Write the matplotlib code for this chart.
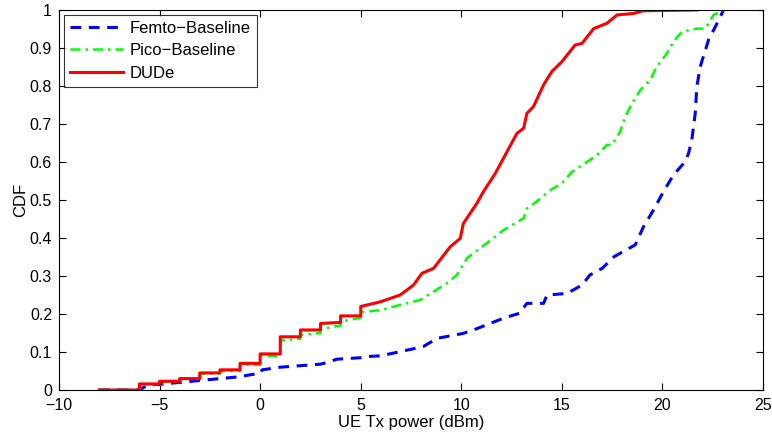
import matplotlib
matplotlib.use("Agg")
import matplotlib.pyplot as plt

plt.rcParams['font.family'] = ['Liberation Sans', 'DejaVu Sans']

# Femto-Baseline (blue dashed)
femto_x = [-8, -6, -5.6, -5, -4, -3, -2, -1, -0.5, 0, 0.1, 1, 2, 3, 3.5, 3.8, 5, 5.3, 6, 6.96, 8.1, 8.8, 10.1, 10.8,
           12.1, 12.9, 13.26, 14.09, 14.26, 15.25, 16.0, 16.4, 17.0, 17.6, 18.65, 19.06, 19.56, 20.05, 20.55,
           21.13, 21.3, 21.46, 21.63, 21.71, 21.88, 22.29, 22.63, 23.04]
femto_y = [0.0, 0.0, 0.013, 0.015, 0.02, 0.025, 0.03, 0.035, 0.04, 0.044, 0.053, 0.06, 0.064, 0.068, 0.075, 0.081,
           0.085, 0.088, 0.09, 0.101, 0.114, 0.136, 0.149, 0.162, 0.189, 0.202, 0.228, 0.228, 0.25, 0.254,
           0.276, 0.303, 0.32, 0.351, 0.382, 0.43, 0.474, 0.522, 0.566, 0.601, 0.623, 0.658, 0.728, 0.798,
           0.851, 0.921, 0.956, 1.0]

# Pico-Baseline (green dash-dot)
pico_x = [-8, -6, -6, -5, -5, -4, -4, -3, -3, -2, -2, -1, -1, 0, 0, 1, 1, 2, 2, 3, 3, 4, 4, 5, 5, 5.97,
          6.96, 7.96, 9.28, 9.78, 10.28, 10.94, 12.1, 13.1, 13.26, 13.75, 14.42, 15.0, 15.5, 16.16, 16.74,
          17.24, 17.49, 17.9, 18.15, 18.48, 18.9, 19.39, 19.72, 20.22, 20.55, 20.97, 21.71, 22.13, 22.54, 23.04]
pico_y = [0.0, 0.0, 0.015, 0.015, 0.022, 0.022, 0.03, 0.03, 0.043, 0.043, 0.05, 0.05, 0.066, 0.066, 0.09,
          0.09, 0.13, 0.135, 0.145, 0.15, 0.16, 0.17, 0.18, 0.19, 0.205, 0.21, 0.224, 0.237, 0.281, 0.303,
          0.347, 0.373, 0.421, 0.452, 0.478, 0.496, 0.526, 0.544, 0.574, 0.597, 0.618, 0.645, 0.645, 0.68,
          0.719, 0.754, 0.789, 0.816, 0.851, 0.886, 0.917, 0.943, 0.951, 0.951, 0.987, 1.0]

# DUDe (red solid)
dude_x = [-8, -6, -6, -5, -5, -4, -4, -3, -3, -2, -2, -1, -1, 0, 0, 1, 1, 2, 2, 3, 3, 4, 4, 5, 5, 5.5,
          5.97, 6.96, 7.62, 8.04, 8.62, 9.45, 9.95, 10.1, 10.77, 11.1, 11.69, 12.18, 12.76, 13.1, 13.26,
          13.59, 14.09, 14.5, 15.0, 15.66, 16.0, 16.58, 17.24, 17.74, 18.57, 19.06, 21.7]
dude_y = [0.0, 0.0, 0.016, 0.016, 0.023, 0.023, 0.03, 0.03, 0.045, 0.045, 0.053, 0.053, 0.07, 0.07, 0.095,
          0.095, 0.14, 0.14, 0.158, 0.158, 0.175, 0.178, 0.195, 0.195, 0.22, 0.226, 0.232, 0.25, 0.276,
          0.307, 0.32, 0.377, 0.399, 0.438, 0.491, 0.522, 0.57, 0.618, 0.675, 0.689, 0.728, 0.746, 0.803,
          0.838, 0.864, 0.908, 0.912, 0.951, 0.965, 0.987, 0.991, 0.998, 1.0]

xticks = [-10, -5, 0, 5, 10, 15, 20, 25]
xtick_labels = ['\u221210', '\u22125', '0', '5', '10', '15', '20', '25']
yticks = [0, 0.1, 0.2, 0.3, 0.4, 0.5, 0.6, 0.7, 0.8, 0.9, 1]
ytick_labels = ['0', '0.1', '0.2', '0.3', '0.4', '0.5', '0.6', '0.7', '0.8', '0.9', '1']

fig = plt.figure(figsize=(7.72, 4.34), dpi=100)
ax = fig.add_axes([59/772, 44/434, 704/772, 380/434])

ax.plot(femto_x, femto_y, color='#0000ff', linestyle=(0, (3.5, 2.5)), linewidth=2.2, label='Femto\u2212Baseline')
ax.plot(pico_x, pico_y, color='#00ff00', linestyle=(0, (4, 2, 1, 2)), linewidth=1.8, label='Pico\u2212Baseline')
ax.plot(dude_x, dude_y, color='#ff0000', linestyle='-', linewidth=2.2, label='DUDe')

ax.set_xlim(-10, 25)
ax.set_ylim(0, 1)
ax.set_xticks(xticks)
ax.set_xticklabels(xtick_labels)
ax.set_yticks(yticks)
ax.set_yticklabels(ytick_labels)
ax.tick_params(direction='in', top=True, right=True, labelsize=11.5, length=5, width=0.8)
ax.tick_params(axis='x', pad=6)
ax.tick_params(axis='y', pad=5)
for s in ax.spines.values():
    s.set_linewidth(0.8)
ax.set_xlabel('UE Tx power (dBm)', fontsize=12, labelpad=1)
ax.set_ylabel('CDF', fontsize=12, labelpad=1)

leg = ax.legend(loc='upper left', fontsize=12, frameon=True, fancybox=False, edgecolor='black',
                borderaxespad=0.3, handlelength=3.2, labelspacing=0.45, borderpad=0.35, handletextpad=0.4)
leg.get_frame().set_linewidth(0.8)

fig.savefig('out.png', dpi=100)
